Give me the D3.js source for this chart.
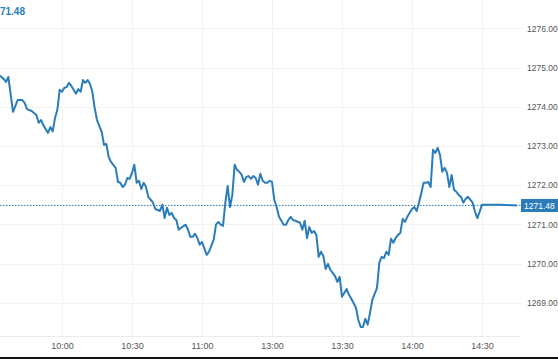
<!DOCTYPE html>
<html><head><meta charset="utf-8">
<script src="https://cdn.jsdelivr.net/npm/d3@7"></script>
<style>body{margin:0;background:#fff;}svg{display:block;font-family:"Liberation Sans",Arial,sans-serif;}</style>
</head><body><svg id="c" width="558" height="359"></svg>
<script>
const times = ["09:31","09:33","09:35","09:36","09:37","09:39","09:41","09:43","09:44","09:45","09:47","09:49","09:50","09:51","09:52","09:54","09:55","09:56","09:57","09:58","09:59",
"10:00","10:01","10:02","10:03","10:04","10:05","10:06","10:07","10:08","10:09","10:10","10:11","10:12","10:13","10:14","10:15","10:17","10:18","10:19","10:20","10:21","10:23","10:24","10:25","10:26","10:27","10:28","10:29",
"10:30","10:31","10:32","10:33","10:34","10:35","10:36","10:37","10:39","10:40","10:42","10:43","10:44","10:45","10:46","10:47","10:48","10:49","10:50","10:51","10:53","10:54","10:55","10:56","10:57","10:58","10:59",
"11:00","11:02","11:03","11:05","11:06","11:07","11:08","11:09","11:10","11:11","11:12","11:13","11:14","11:15","11:16","11:17","11:18","11:19","11:20","11:21","11:22","11:23","11:24","11:25","11:26","11:27","11:28","11:29","11:30",
"13:01","13:02","13:03","13:05","13:06","13:07","13:08","13:09","13:10","13:12","13:13","13:14","13:15","13:16","13:17","13:18","13:19","13:20","13:21","13:22","13:23","13:24","13:25","13:26","13:27","13:28","13:29","13:30","13:32","13:33","13:34","13:36","13:37","13:38","13:39","13:40","13:41","13:42","13:43","13:45","13:46","13:47","13:48","13:49","13:50","13:51","13:52","13:53","13:54","13:55","13:56","13:57","13:58","14:00","14:01","14:02","14:03","14:04","14:05","14:06","14:07","14:08","14:09","14:10","14:11","14:12","14:13","14:14","14:15","14:16","14:17","14:18","14:19","14:20","14:21","14:22","14:23","14:24","14:26","14:27","14:28","14:29","14:30","14:31","14:38","14:45"];
const prices = [1274.85,1274.81,1274.71,1274.63,1274.76,1273.87,1274.17,1274.17,1274.10,1273.94,1273.89,1273.79,1273.59,1273.66,1273.53,1273.33,1273.48,1273.37,1273.71,1273.92,1274.43,
1274.38,1274.48,1274.50,1274.61,1274.53,1274.43,1274.33,1274.45,1274.38,1274.68,1274.61,1274.68,1274.58,1274.38,1273.97,1273.66,1273.36,1273.03,1273.05,1272.72,1272.59,1272.44,1272.08,1272.06,1271.95,1272.01,1272.18,1272.16,
1272.31,1272.52,1272.06,1272.11,1271.90,1272.06,1271.95,1271.70,1271.55,1271.39,1271.34,1271.50,1271.16,1271.42,1271.24,1271.29,1271.16,1271.11,1270.86,1270.91,1270.99,1270.86,1270.68,1270.68,1270.76,1270.65,1270.48,
1270.55,1270.22,1270.30,1270.60,1270.99,1271.06,1270.99,1270.96,1271.55,1271.98,1271.44,1271.75,1272.52,1272.39,1272.34,1272.26,1272.08,1272.21,1272.23,1272.16,1272.23,1272.18,1272.01,1272.29,1272.11,1272.06,1272.06,1272.11,1272.08,
1271.62,1271.44,1271.19,1270.99,1270.99,1271.11,1271.19,1271.11,1271.09,1271.04,1270.86,1271.09,1270.65,1270.93,1270.78,1270.83,1270.73,1270.17,1270.30,1270.19,1269.86,1269.99,1269.84,1269.76,1269.68,1269.53,1269.66,1269.15,1269.35,1269.20,1269.10,1268.87,1268.56,1268.38,1268.38,1268.59,1268.44,1268.74,1269.07,1269.38,1270.02,1270.17,1270.14,1270.30,1270.22,1270.63,1270.53,1270.65,1270.73,1270.78,1271.14,1271.06,1271.19,1271.39,1271.44,1271.34,1271.55,1271.80,1272.06,1272.06,1272.08,1271.95,1272.90,1272.82,1272.95,1272.77,1272.34,1272.44,1272.31,1271.95,1272.26,1271.88,1271.83,1271.75,1271.70,1271.55,1271.65,1271.70,1271.55,1271.32,1271.16,1271.32,1271.50,1271.50,1271.50,1271.48];
const xTickLabels = ["10:00","10:30","11:00","13:00","13:30","14:00","14:30"];
const yTickValues = [1269,1270,1271,1272,1273,1274,1275,1276];
const lastPrice = 1271.48;

const W = 558, H = 359;
const blue = "#2a7db8";
const axisFont = "'Liberation Sans',Arial,sans-serif";
function tm(s){const [h,mi]=s.split(":").map(Number);const t=h*60+mi;return t<=690? t-570 : t-780+120;}

const svg = d3.select("#c");
const x = d3.scaleLinear().domain([0,225]).range([-8,517]);
const y = d3.scaleLinear().domain([1269,1276]).range([302.7,28.3]);
const plotRight = 521, plotBottom = 336;

// grid
svg.append("g").selectAll("line").data(yTickValues).join("line")
  .attr("x1",0).attr("x2",plotRight).attr("y1",d=>Math.round(y(d))+0.5).attr("y2",d=>Math.round(y(d))+0.5)
  .attr("stroke","#f2f2f2");
svg.append("g").selectAll("line").data(xTickLabels).join("line")
  .attr("x1",d=>Math.round(x(tm(d)))+0.5).attr("x2",d=>Math.round(x(tm(d)))+0.5).attr("y1",0).attr("y2",plotBottom)
  .attr("stroke","#f2f2f2");
svg.append("line").attr("x1",0).attr("x2",plotRight).attr("y1",plotBottom+0.5).attr("y2",plotBottom+0.5).attr("stroke","#ebebeb");

// axes
const xa = svg.append("g").attr("transform",`translate(0,${plotBottom})`)
  .call(d3.axisBottom(x).tickValues(xTickLabels.map(tm)).tickFormat((d,i)=>xTickLabels[i]).tickSize(0).tickPadding(7));
xa.select(".domain").remove();
xa.selectAll("text").attr("fill","#555").style("font-size","9px").style("font-family",axisFont);

const ya = svg.append("g").attr("transform",`translate(${plotRight+6},0)`)
  .call(d3.axisRight(y).tickValues(yTickValues).tickFormat(d3.format(".2f")).tickSize(0).tickPadding(0));
ya.select(".domain").remove();
ya.selectAll("text").attr("fill","#555").style("font-size","8.5px").style("font-family",axisFont);

// last price dotted line
svg.append("line").attr("x1",0).attr("x2",plotRight).attr("y1",y(lastPrice)).attr("y2",y(lastPrice))
  .attr("stroke",blue).attr("stroke-width",1).attr("stroke-dasharray","1.5,1.5");

// price line
const data = times.map((t,i)=>({m:tm(t),p:prices[i]}));
svg.append("defs").append("clipPath").attr("id","clip").append("rect").attr("x",0).attr("y",0).attr("width",plotRight).attr("height",plotBottom);
svg.append("path").datum(data).attr("clip-path","url(#clip)")
  .attr("d",d3.line().x(d=>x(d.m)).y(d=>y(d.p)))
  .attr("fill","none").attr("stroke",blue).attr("stroke-width",2).attr("stroke-linejoin","round");

// price tag
const ty = y(lastPrice);
svg.append("rect").attr("x",plotRight).attr("y",ty-6.5).attr("width",W-plotRight).attr("height",13).attr("fill",blue);
svg.append("text").attr("x",plotRight+3).attr("y",ty+3.2).attr("fill","#fff").style("font-size","8.5px").style("font-family",axisFont).text(d3.format(".2f")(lastPrice));

// top-left label (clipped)
svg.append("text").attr("x",25).attr("y",15).attr("text-anchor","end").attr("fill",blue)
  .style("font-size","10px").style("font-weight","bold").style("font-family",axisFont).text(d3.format(".2f")(lastPrice));

// bottom border
svg.append("rect").attr("x",0).attr("y",H-2).attr("width",W).attr("height",2).attr("fill","#111");
</script></body></html>
